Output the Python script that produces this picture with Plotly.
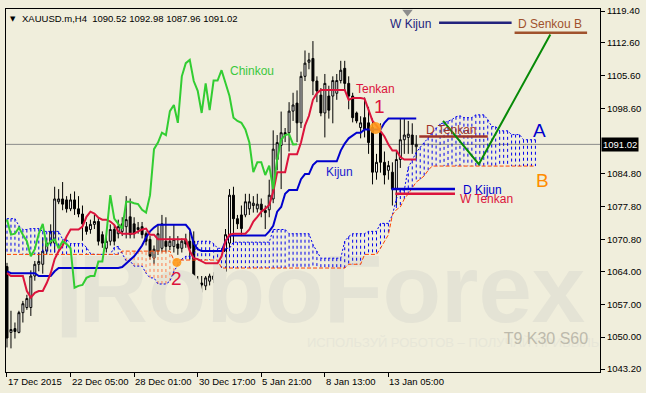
import plotly.graph_objects as go

# ---------------- data ----------------
OPEN = [1065.0, 1051.0, 1051.8, 1051.0, 1055.2, 1056.3, 1056.3, 1063.0, 1065.5, 1065.5,
        1068.3, 1070.0, 1070.0, 1078.8, 1079.4, 1079.2, 1077.3, 1079.2, 1077.3, 1076.2,
        1073.5, 1072.9, 1074.0, 1074.6, 1071.8, 1068.9, 1070.4, 1072.9, 1072.0, 1072.5,
        1073.5, 1075.6, 1074.1, 1072.9, 1073.5, 1072.0, 1070.8, 1066.8, 1068.3, 1068.9,
        1070.4, 1069.3, 1069.3, 1069.8, 1068.9, 1070.8, 1070.4, 1070.4, 1061.3, 1061.5,
        1060.9, 1061.9, 1062.3, 1062.3, 1064.0, 1064.0, 1070.0, 1080.2, 1075.2, 1076.0,
        1076.0, 1077.3, 1078.0, 1077.3, 1078.3, 1077.0, 1077.1, 1079.4, 1087.8, 1090.8,
        1093.5, 1093.5, 1098.1, 1099.8, 1095.6, 1105.5, 1108.5, 1109.3, 1104.5, 1101.5,
        1097.7, 1101.3, 1101.3, 1101.9, 1104.6, 1107.2, 1104.0, 1101.3, 1097.7, 1094.6,
        1096.7, 1095.6, 1094.6, 1085.1, 1093.5, 1087.2, 1085.5, 1085.1, 1081.5, 1087.8,
        1092.0, 1092.5, 1093.0, 1090.52]
HIGH = [1065.8, 1055.6, 1053.1, 1055.6, 1057.7, 1059.0, 1064.2, 1066.2, 1068.0, 1071.2,
        1071.0, 1074.0, 1082.0, 1081.5, 1083.0, 1080.0, 1080.5, 1081.0, 1080.0, 1078.0,
        1074.5, 1075.0, 1076.0, 1075.5, 1072.5, 1072.0, 1074.0, 1074.0, 1075.0, 1075.5,
        1080.0, 1079.5, 1075.5, 1074.5, 1074.5, 1072.5, 1071.5, 1069.5, 1074.0, 1076.0,
        1075.5, 1071.5, 1074.0, 1071.5, 1071.0, 1072.0, 1072.5, 1072.5, 1063.0, 1063.0,
        1063.0, 1063.5, 1063.8, 1067.0, 1067.0, 1073.0, 1081.5, 1082.0, 1076.0, 1078.0,
        1080.5, 1080.5, 1080.0, 1080.5, 1079.5, 1078.0, 1083.5, 1094.0, 1093.0, 1098.0,
        1094.5, 1100.0, 1102.0, 1102.5, 1106.5, 1111.0, 1110.5, 1113.0, 1105.5, 1103.0,
        1106.0, 1103.5, 1105.5, 1106.0, 1108.8, 1108.8, 1105.5, 1102.0, 1098.0, 1097.0,
        1101.0, 1099.0, 1096.5, 1089.0, 1095.5, 1089.5, 1087.5, 1087.2, 1089.5, 1096.5,
        1096.5, 1096.0, 1095.5, 1092.98]
LOW = [1047.8, 1047.6, 1049.7, 1050.8, 1053.1, 1055.8, 1054.5, 1062.0, 1064.0, 1063.5,
       1067.5, 1069.5, 1068.0, 1078.3, 1077.0, 1076.5, 1076.8, 1076.0, 1075.5, 1070.5,
       1071.8, 1072.0, 1073.0, 1069.5, 1069.0, 1068.0, 1069.5, 1069.5, 1071.0, 1071.5,
       1071.0, 1071.0, 1071.0, 1072.0, 1071.0, 1069.5, 1066.5, 1065.5, 1067.5, 1068.0,
       1068.0, 1068.5, 1068.0, 1067.5, 1068.0, 1069.0, 1066.5, 1059.0, 1058.5, 1059.5,
       1060.0, 1061.0, 1061.5, 1061.0, 1063.0, 1063.0, 1069.0, 1070.0, 1073.0, 1071.5,
       1075.5, 1076.0, 1076.5, 1076.5, 1075.5, 1073.0, 1075.5, 1078.5, 1085.5, 1081.5,
       1091.5, 1089.5, 1096.0, 1091.5, 1094.5, 1104.5, 1107.0, 1101.5, 1100.0, 1097.0,
       1092.5, 1096.5, 1095.5, 1100.5, 1104.0, 1102.5, 1098.5, 1095.7, 1095.5, 1092.3,
       1092.5, 1089.0, 1082.5, 1083.5, 1085.0, 1082.5, 1083.5, 1078.0, 1078.0, 1086.0,
       1089.0, 1089.0, 1089.0, 1087.96]
CLOSE = [1049.8, 1051.6, 1051.2, 1055.2, 1057.1, 1058.2, 1063.0, 1065.5, 1066.1, 1068.3,
         1070.0, 1072.5, 1079.4, 1079.4, 1078.3, 1077.3, 1079.2, 1077.3, 1076.2, 1074.1,
         1072.5, 1074.0, 1074.6, 1070.4, 1070.0, 1070.4, 1072.9, 1070.4, 1073.5, 1074.1,
         1075.0, 1071.8, 1072.0, 1073.3, 1071.8, 1070.4, 1067.2, 1068.7, 1072.0, 1074.1,
         1069.3, 1070.4, 1070.8, 1068.9, 1070.4, 1069.8, 1068.9, 1060.5, 1060.9, 1061.1,
         1062.6, 1063.0, 1063.0, 1066.1, 1066.1, 1071.8, 1080.2, 1075.2, 1074.1, 1073.1,
         1078.8, 1078.8, 1078.5, 1078.3, 1077.1, 1076.5, 1080.2, 1090.0, 1091.4, 1093.5,
         1093.0, 1098.1, 1099.4, 1095.6, 1105.5, 1108.3, 1109.0, 1104.5, 1102.4, 1097.7,
         1104.0, 1098.3, 1104.6, 1104.6, 1106.8, 1104.0, 1101.3, 1096.7, 1096.0, 1095.6,
         1094.2, 1091.4, 1085.1, 1087.2, 1087.2, 1084.5, 1086.5, 1081.5, 1087.8, 1092.0,
         1093.0, 1093.2, 1091.0, 1091.02]

TENKAN = [1063.6, 1063.0, 1063.0, 1063.0, 1063.0, 1059.8, 1058.4, 1059.4, 1059.8, 1059.8,
          1061.5, 1063.6, 1066.6, 1068.3, 1069.5, 1071.4, 1072.9, 1072.9, 1072.9, 1073.5,
          1075.6, 1076.7, 1076.3, 1075.4, 1075.0, 1075.0, 1074.6, 1073.9, 1072.5, 1072.0,
          1072.0, 1072.0, 1072.0, 1072.5, 1072.9, 1073.1, 1071.8, 1071.8, 1070.8, 1070.8,
          1070.8, 1070.8, 1070.8, 1070.8, 1070.8, 1070.8, 1068.3, 1066.8, 1066.6, 1066.2,
          1065.7, 1065.7, 1065.7, 1065.7, 1067.2, 1070.4, 1071.8, 1072.0, 1072.0, 1072.0,
          1072.0, 1072.9, 1074.6, 1075.6, 1076.7, 1077.3, 1078.1, 1080.9, 1085.1, 1085.1,
          1085.1, 1088.9, 1088.9, 1088.9, 1091.4, 1095.0, 1097.1, 1100.5, 1101.9, 1102.6,
          1102.6, 1102.6, 1102.6, 1102.6, 1102.6, 1102.6, 1100.5, 1100.9, 1100.9, 1100.9,
          1100.7, 1098.1, 1096.0, 1095.0, 1093.9, 1092.7, 1091.0, 1089.7, 1089.7, 1088.3,
          1087.8, 1087.8, 1087.8, 1087.8]
KIJUN = [1064.0, 1063.6, 1063.6, 1063.6, 1063.6, 1063.6, 1063.6, 1063.6, 1063.0, 1063.0,
         1063.0, 1063.0, 1064.0, 1064.7, 1064.7, 1064.7, 1064.7, 1064.7, 1064.7, 1064.7,
         1064.7, 1064.7, 1064.7, 1064.7, 1064.7, 1064.7, 1064.7, 1064.7, 1064.7, 1064.9,
         1065.7, 1066.6, 1067.2, 1068.3, 1069.5, 1071.2, 1072.5, 1073.3, 1073.9, 1073.9,
         1073.9, 1073.9, 1073.9, 1073.9, 1073.9, 1073.9, 1072.9, 1069.9, 1068.7, 1068.3,
         1068.3, 1068.3, 1068.3, 1068.3, 1068.3, 1070.4, 1071.6, 1071.6, 1071.6, 1071.6,
         1071.6, 1071.6, 1071.6, 1071.6, 1071.6, 1071.6, 1072.5, 1073.7, 1076.7, 1077.7,
         1080.5, 1081.3, 1081.3, 1081.3, 1083.6, 1084.7, 1084.7, 1086.6, 1087.4, 1087.4,
         1087.4, 1087.4, 1087.4, 1087.4, 1089.7, 1091.2, 1092.3, 1092.9, 1093.5, 1093.5,
         1094.2, 1094.2, 1094.2, 1094.2, 1094.2, 1095.6, 1096.5, 1096.5, 1096.5, 1096.5,
         1096.5, 1096.5, 1096.5, 1096.5]
SENKOU_A = [1075.2, 1075.2, 1075.2, 1073.7, 1072.9, 1072.9, 1073.1, 1073.1, 1073.1, 1072.5,
            1072.5, 1072.5, 1072.5, 1072.5, 1070.8, 1070.8, 1069.9, 1069.9, 1069.9, 1069.9,
            1069.1, 1067.8, 1067.6, 1067.6, 1067.6, 1067.6, 1067.6, 1069.1, 1069.3, 1067.8,
            1066.2, 1066.2, 1065.1, 1065.1, 1065.1, 1063.6, 1062.6, 1062.6, 1061.3, 1061.3,
            1061.3, 1061.9, 1064.0, 1065.3, 1066.6, 1067.2, 1067.2, 1067.2, 1070.4, 1070.4,
            1070.4, 1070.4, 1069.9, 1068.9, 1068.9, 1068.9, 1068.9, 1070.2, 1070.2, 1070.2,
            1070.2, 1070.2, 1070.2, 1070.2, 1070.2, 1070.2, 1070.2, 1072.9, 1072.9, 1072.9,
            1072.9, 1072.0, 1072.0, 1072.0, 1072.0, 1072.0, 1072.0, 1069.7, 1068.3, 1066.8,
            1066.8, 1066.8, 1066.8, 1066.8, 1066.8, 1070.4, 1071.4, 1072.0, 1072.0, 1072.0,
            1072.0, 1072.5, 1072.5, 1072.5, 1074.2, 1074.2, 1074.2, 1076.0, 1079.4, 1081.3,
            1081.3, 1086.1, 1087.6, 1089.3, 1090.4, 1091.4, 1092.5, 1093.5, 1094.6, 1095.4,
            1095.6, 1096.0, 1096.3, 1096.9, 1097.1, 1096.7, 1096.7, 1096.7, 1097.3, 1097.3,
            1097.3, 1096.3, 1094.8, 1094.8, 1093.9, 1093.9, 1093.9, 1093.1, 1093.1, 1093.1,
            1092.0, 1092.0, 1092.0, 1092.0]
SENKOU_B = [1067.6, 1067.6, 1067.6, 1067.6, 1067.6, 1067.6, 1067.6, 1067.6, 1067.6, 1067.6,
            1067.6, 1067.6, 1067.6, 1067.6, 1067.6, 1067.6, 1067.6, 1067.6, 1067.6, 1067.6,
            1067.6, 1067.6, 1067.6, 1067.6, 1067.6, 1067.6, 1067.6, 1067.6, 1067.6, 1068.3,
            1068.3, 1068.3, 1068.3, 1068.3, 1068.3, 1068.3, 1068.3, 1068.3, 1068.3, 1068.3,
            1068.3, 1068.3, 1066.4, 1066.4, 1066.4, 1066.4, 1066.4, 1066.4, 1066.4, 1066.4,
            1066.4, 1066.4, 1066.4, 1066.4, 1064.7, 1064.7, 1064.7, 1064.7, 1064.7, 1064.7,
            1064.7, 1064.7, 1064.7, 1064.7, 1064.7, 1064.7, 1064.7, 1064.7, 1064.7, 1064.7,
            1064.7, 1064.7, 1064.7, 1064.7, 1064.7, 1064.7, 1064.7, 1064.7, 1064.7, 1064.7,
            1064.7, 1064.7, 1064.7, 1064.7, 1064.7, 1064.7, 1065.5, 1065.5, 1065.5, 1065.5,
            1067.6, 1067.6, 1067.6, 1067.6, 1068.9, 1070.4, 1071.8, 1076.0, 1077.1, 1077.7,
            1079.4, 1080.5, 1081.9, 1083.0, 1083.6, 1084.3, 1085.5, 1086.4, 1086.4, 1086.4,
            1086.4, 1086.4, 1086.4, 1086.4, 1086.4, 1086.4, 1086.4, 1086.4, 1086.4, 1086.4,
            1086.4, 1086.4, 1086.4, 1086.4, 1086.4, 1086.4, 1086.4, 1086.4, 1086.4, 1086.4,
            1086.4, 1086.4, 1086.4, 1086.4]
CHINKOU_SHIFT = 30
PRICE = 1091.02

TICK_POS = [0, 16, 32, 48, 64, 80, 96]
TICK_LABELS = ["17 Dec 2015", "22 Dec 05:00", "28 Dec 01:00", "30 Dec 17:00",
               "5 Jan 21:00", "8 Jan 13:00", "13 Jan 05:00"]
Y_TICKS = [1119.40, 1112.60, 1105.60, 1098.60, 1084.80, 1077.80, 1070.80,
           1064.00, 1057.00, 1050.00, 1043.20]

# higher-timeframe levels: (label, x_start, x_end, level)
LEVELS = [("W Kijun", 108.75, 127.0, 1116.9),
          ("D Senkou B", 127.75, 146.0, 1114.8),
          ("D Tenkan", 103.75, 121.0, 1092.7),
          ("D Kijun", 96.75, 112.75, 1081.5),
          ("W Tenkan", 97.75, 112.75, 1080.5)]
LEVEL_COLORS = ["#23237d", "#a0522d", "#a0342a", "#0000cd", "#dc143c"]
LEVEL_LABEL_POS = [(101.5, 1116.7), (136.75, 1116.7), (111.75, 1094.0),
                   (119.75, 1081.4), (120.75, 1079.3)]

FORECAST_X = [109.75, 118.75, 136.75]
FORECAST_Y = [1096.0, 1086.8, 1114.4]

CROSS_X = [92.75, 42.75]
CROSS_Y = [1094.5, 1065.9]

# ---------------- figure ----------------
BG = "#f0eedc"
FONT = "Liberation Sans, Arial, sans-serif"
bars = list(range(len(CLOSE)))
cloud_x = list(range(len(SENKOU_A)))

fig = go.Figure()

# watermark (drawn first, below everything)
fig.add_trace(go.Scatter(x=[18.0], y=[1058.4], mode="text", text=["<b>RoboForex</b>"],
                         textposition="middle right",
                         textfont=dict(size=96, color="#e4e3d5", family=FONT),
                         hoverinfo="skip", showlegend=False))
fig.add_trace(go.Scatter(x=[75.5], y=[1048.5], mode="text",
                         text=["ИСПОЛЬЗУЙ РОБОТОВ – ПОЛУЧАЙ ПРИБЫЛЬ"],
                         textposition="middle right",
                         textfont=dict(size=13, color="#e7e6d8", family=FONT),
                         hoverinfo="skip", showlegend=False))
fig.add_trace(go.Scatter(x=[125.0], y=[1049.3], mode="text", text=["T9 K30 S60"],
                         textposition="middle right",
                         textfont=dict(size=16, color="#bdbaac", family=FONT),
                         hoverinfo="skip", showlegend=False))

# cloud hatch
bx, by, ox, oy = [], [], [], []
for i, (a, b) in enumerate(zip(SENKOU_A, SENKOU_B)):
    if a >= b:
        bx += [i, i, None]; by += [a, b, None]
    else:
        ox += [i, i, None]; oy += [a, b, None]
fig.add_trace(go.Scatter(x=bx, y=by, mode="lines",
                         line=dict(color="#0000ee", width=1, dash="3px,3px"),
                         hoverinfo="skip", showlegend=False))
fig.add_trace(go.Scatter(x=ox, y=oy, mode="lines",
                         line=dict(color="#ff7f50", width=1, dash="3px,3px"),
                         hoverinfo="skip", showlegend=False))
fig.add_trace(go.Scatter(x=cloud_x, y=SENKOU_A, mode="lines",
                         line=dict(color="#0000ee", width=1, dash="2px,2px"),
                         hoverinfo="skip", showlegend=False))
fig.add_trace(go.Scatter(x=cloud_x, y=SENKOU_B, mode="lines",
                         line=dict(color="#ff4500", width=1, dash="4px,2px"),
                         hoverinfo="skip", showlegend=False))

# candles
fig.add_trace(go.Candlestick(
    x=bars, open=OPEN, high=HIGH, low=LOW, close=CLOSE,
    increasing=dict(line=dict(color="black", width=1), fillcolor="white"),
    decreasing=dict(line=dict(color="black", width=1), fillcolor="black"),
    whiskerwidth=0, hoverinfo="skip", showlegend=False))

# ichimoku lines
fig.add_trace(go.Scatter(x=bars, y=KIJUN, mode="lines",
                         line=dict(color="#0000cd", width=2),
                         hoverinfo="skip", showlegend=False))
fig.add_trace(go.Scatter(x=bars, y=TENKAN, mode="lines",
                         line=dict(color="#dc143c", width=2),
                         hoverinfo="skip", showlegend=False))
fig.add_trace(go.Scatter(x=[b - CHINKOU_SHIFT for b in bars[CHINKOU_SHIFT:]],
                         y=CLOSE[CHINKOU_SHIFT:], mode="lines",
                         line=dict(color="#32cd32", width=2),
                         hoverinfo="skip", showlegend=False))

# higher timeframe levels
for (name, x0, x1, lv), col in zip(LEVELS, LEVEL_COLORS):
    fig.add_trace(go.Scatter(x=[x0, x1], y=[lv, lv], mode="lines",
                             line=dict(color=col, width=2.5),
                             hoverinfo="skip", showlegend=False))

# forecast
fig.add_trace(go.Scatter(x=FORECAST_X, y=FORECAST_Y, mode="lines",
                         line=dict(color="#078a07", width=2),
                         hoverinfo="skip", showlegend=False))

# cross markers
fig.add_trace(go.Scatter(x=CROSS_X, y=CROSS_Y, mode="markers",
                         marker=dict(size=[12, 9], color="#ff9a1a", opacity=0.9,
                                     line=dict(width=0)),
                         hoverinfo="skip", showlegend=False))

# chart shift marker
fig.add_trace(go.Scatter(x=[100.8], y=[1119.2], mode="markers",
                         marker=dict(symbol="triangle-down", size=9, color="#8c8c8c"),
                         cliponaxis=False, hoverinfo="skip", showlegend=False))

ann = []
# level labels
for (name, *_), col, (lx, ly) in zip(LEVELS, LEVEL_COLORS, LEVEL_LABEL_POS):
    ann.append(dict(x=lx, y=ly, text=name, showarrow=False,
                    font=dict(size=12, color=col, family=FONT)))
# line labels
ann += [
    dict(x=92.75, y=1102.8, text="Tenkan", showarrow=False,
         font=dict(size=12, color="#dc143c", family=FONT)),
    dict(x=83.75, y=1085.1, text="Kijun", showarrow=False,
         font=dict(size=12, color="#2020d0", family=FONT)),
    dict(x=61.75, y=1106.6, text="Chinkou", showarrow=False,
         font=dict(size=12, color="#3cc83c", family=FONT)),
    dict(x=93.75, y=1099.0, text="1", showarrow=False,
         font=dict(size=19, color="#dc143c", family=FONT)),
    dict(x=42.75, y=1062.4, text="2", showarrow=False,
         font=dict(size=19, color="#dc143c", family=FONT)),
    dict(x=134.0, y=1093.9, text="A", showarrow=False,
         font=dict(size=19, color="#0000cd", family=FONT)),
    dict(x=134.75, y=1083.4, text="B", showarrow=False,
         font=dict(size=19, color="#ff8c00", family=FONT)),
]
# x tick labels (left aligned at tick like MT4)
for p, t in zip(TICK_POS, TICK_LABELS):
    ann.append(dict(x=p, xref="x", y=0, yref="paper", text=t, showarrow=False,
                    xanchor="left", yanchor="top", yshift=-2, xshift=-1,
                    font=dict(size=9.5, color="black", family=FONT)))
# current price box
ann.append(dict(x=1, xref="paper", y=PRICE, yref="y", text=f"{PRICE:.2f}",
                showarrow=False, xanchor="left", xshift=1, bgcolor="black",
                borderpad=1, font=dict(size=9.5, color="white", family=FONT)))
# header
ann.append(dict(x=0, xref="paper", y=1, yref="paper", text="▼", showarrow=False,
                xanchor="left", yanchor="top", xshift=2, yshift=-4,
                font=dict(size=7, color="black", family="DejaVu Sans")))
ann.append(dict(x=0, xref="paper", y=1, yref="paper",
                text=f"XAUUSD.m,H4  {OPEN[-1]:.2f} {HIGH[-1]:.2f} {LOW[-1]:.2f} {CLOSE[-1]:.2f}",
                showarrow=False, xanchor="left", yanchor="top", xshift=14, yshift=-2,
                font=dict(size=9.5, color="black", family=FONT)))

shapes = [
    dict(type="line", xref="paper", x0=0, x1=1, yref="y", y0=PRICE, y1=PRICE,
         line=dict(color="#8a8a8a", width=1), layer="below"),
    dict(type="rect", xref="paper", x0=0.094, x1=0.119, yref="paper", y0=0.095, y1=0.318,
         fillcolor="#e4e3d5", line=dict(width=0), layer="below"),
]

fig.update_layout(
    width=646, height=393,
    margin=dict(l=5, r=43, t=5, b=21),
    paper_bgcolor=BG, plot_bgcolor=BG,
    showlegend=False,
    annotations=ann, shapes=shapes,
    font=dict(family=FONT, size=10, color="black"),
    xaxis=dict(range=[-0.25, 149.25], showgrid=False, zeroline=False,
               showline=True, linecolor="black", linewidth=1, mirror=True,
               ticks="outside", ticklen=4, tickcolor="black",
               tickvals=TICK_POS, showticklabels=False,
               rangeslider=dict(visible=False), fixedrange=True),
    yaxis=dict(range=[1042.57, 1119.83], side="right", showgrid=False, zeroline=False,
               showline=True, linecolor="black", linewidth=1, mirror=True,
               ticks="outside", ticklen=4, tickcolor="black",
               tickvals=Y_TICKS, ticktext=[f"{v:.2f}" for v in Y_TICKS],
               tickfont=dict(size=9.5, family=FONT, color="black"), fixedrange=True),
)

fig.write_html("out.html")
